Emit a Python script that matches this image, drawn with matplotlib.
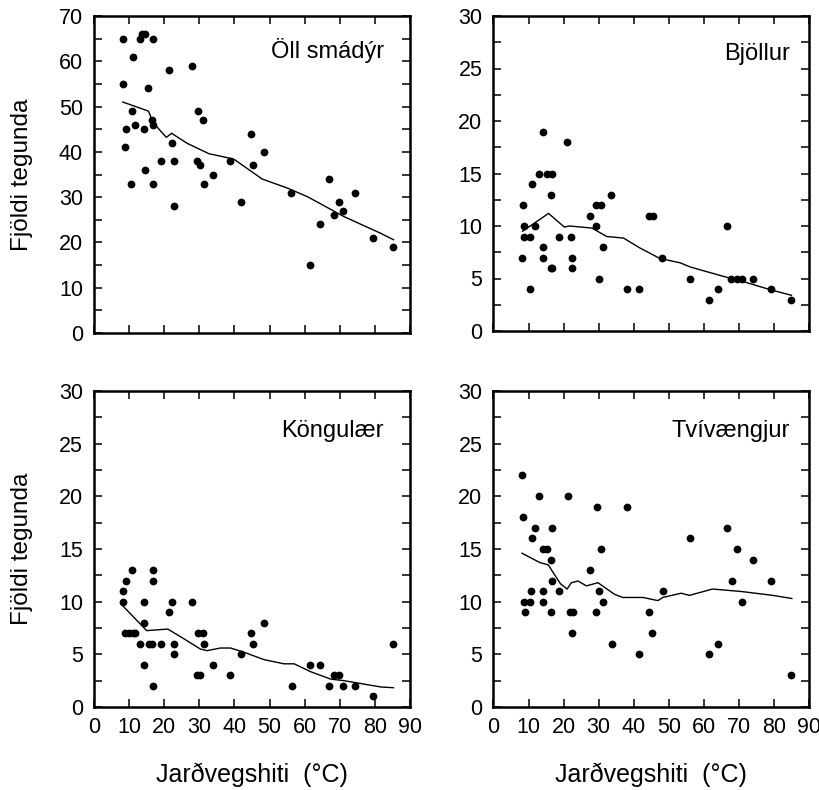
import matplotlib
matplotlib.use("Agg")
import matplotlib.pyplot as plt
from matplotlib.ticker import MultipleLocator

plt.rcParams['font.family'] = ['Liberation Sans', 'DejaVu Sans']

# ---- data ----
titles = ["Öll smádýr", "Bjöllur", "Köngulær", "Tvívængjur"]
xlabel = "Jarðvegshiti  (°C)"
ylabel = "Fjöldi tegunda"

x1 = [8.4, 11.1, 13.2, 13.8, 14.4, 16.8, 8.2, 21.3, 27.9, 15.5, 10.7, 29.6, 31.0, 11.8, 9.0,
      14.3, 16.6, 16.7, 8.9, 22.2, 22.7, 19.0, 14.4, 10.5, 16.8, 22.9, 29.2, 30.2, 31.3, 33.9,
      38.6, 44.6, 45.4, 48.5, 41.8, 56.2, 61.6, 64.3, 66.8, 68.3, 69.8, 71.0, 74.2, 79.4, 85.3]
y1 = [65, 61, 65, 66, 66, 65, 55, 58, 59, 54, 49, 49, 47, 46, 45, 45, 47, 46, 41, 42,
      38, 38, 36, 33, 33, 28, 38, 37, 33, 35, 38, 44, 37, 40, 29, 31, 15, 24, 34, 26,
      29, 27, 31, 21, 19]
lx1 = [8.2, 15.5, 16.9, 20.6, 22.1, 26.5, 32.7, 39.8, 44.6, 47.9, 55.1, 60.8, 71.2, 81.7, 85.3]
ly1 = [51.0, 49.0, 46.4, 43.2, 44.1, 41.9, 39.6, 38.4, 35.8, 34.0, 32.0, 30.1, 25.7, 22.0, 20.6]

x2 = [8.3, 8.6, 8.6, 10.5, 11.7, 8.1, 10.4, 11.0, 13.1, 14.1, 15.2, 16.8, 16.4, 14.1, 14.1,
      16.4, 16.8, 18.8, 21.1, 22.1, 22.5, 22.5, 27.6, 29.1, 29.3, 30.8, 31.2, 30.0, 33.6, 38.2,
      41.6, 44.5, 45.4, 48.2, 56.1, 61.4, 64.0, 66.5, 67.7, 69.4, 70.8, 73.9, 79.1, 85.0]
y2 = [12, 10, 9, 9, 10, 7, 4, 14, 15, 19, 15, 15, 13, 8, 7, 6, 6, 9, 18, 9,
      7, 6, 11, 10, 12, 12, 8, 5, 13, 4, 4, 11, 11, 7, 5, 3, 4, 10, 5, 5,
      5, 5, 4, 3]
lx2 = [8.3, 15.7, 20.2, 21.7, 28.1, 32.3, 37.1, 41.8, 47.5, 53.2, 56.1, 65.6, 71.3, 79.3, 85.0]
ly2 = [9.5, 11.2, 9.9, 10.0, 9.8, 9.0, 8.85, 7.9, 6.9, 6.5, 6.1, 5.2, 4.7, 3.9, 3.4]

x3 = [8.2, 8.4, 9.0, 10.7, 8.8, 10.1, 11.1, 11.8, 13.2, 14.3, 14.3, 14.3, 15.6, 16.6, 16.7,
      16.7, 16.8, 19.0, 21.3, 22.2, 22.8, 22.8, 27.9, 29.5, 31.1, 31.3, 29.2, 30.3, 33.9, 38.6,
      41.9, 44.6, 45.4, 48.5, 56.3, 61.6, 64.3, 66.8, 68.4, 69.8, 71.0, 74.2, 79.4, 85.2]
y3 = [11, 10, 12, 13, 7, 7, 7, 7, 6, 10, 8, 4, 6, 6, 13, 12, 2, 6, 9, 10,
      6, 5, 10, 7, 7, 6, 3, 3, 4, 3, 5, 7, 6, 8, 2, 4, 4, 2, 3, 3,
      2, 2, 1, 6]
lx3 = [8.2, 15.0, 21.0, 25.5, 30.3, 32.2, 36.0, 38.9, 42.7, 48.4, 54.1, 57.0, 61.7, 67.4, 71.2, 81.7, 85.3]
ly3 = [9.6, 7.25, 7.4, 6.5, 5.5, 5.35, 5.6, 5.6, 5.2, 4.5, 4.1, 4.1, 3.35, 2.65, 2.5, 1.9, 1.83]

x4 = [8.1, 8.3, 8.6, 8.9, 10.4, 10.6, 11.0, 11.7, 13.1, 14.0, 15.4, 14.1, 14.1, 16.7, 16.4,
      16.7, 16.5, 18.8, 21.2, 21.9, 22.6, 22.5, 27.6, 29.1, 29.5, 30.0, 30.8, 31.2, 33.7, 38.2,
      41.6, 44.4, 45.3, 48.3, 56.1, 61.5, 64.0, 66.5, 68.0, 69.5, 70.8, 73.9, 79.1, 85.0]
y4 = [22, 18, 10, 9, 10, 11, 16, 17, 20, 15, 15, 11, 10, 17, 14, 12, 9, 11, 20, 9,
      9, 7, 13, 9, 19, 11, 15, 10, 6, 19, 5, 9, 7, 11, 16, 5, 6, 17, 12, 15,
      10, 14, 12, 3]
lx4 = [8.1, 13.3, 15.6, 19.1, 21.0, 22.2, 24.1, 26.5, 29.8, 34.5, 36.9, 42.6, 46.9, 48.3,
       53.5, 55.9, 62.5, 71.1, 79.6, 85.1]
ly4 = [14.6, 13.7, 13.5, 11.7, 11.2, 11.8, 11.96, 11.5, 11.8, 10.7, 10.4, 10.4, 10.1, 10.4,
       10.8, 10.6, 11.2, 10.95, 10.6, 10.3]

xs = [x1, x2, x3, x4]
ys = [y1, y2, y3, y4]
lxs = [lx1, lx2, lx3, lx4]
lys = [ly1, ly2, ly3, ly4]
ymaxes = [70, 30, 30, 30]
ymajor = [10, 5, 5, 5]
yminor = [5, 2.5, 2.5, 2.5]

W, H = 820, 790
fig = plt.figure(figsize=(W / 100, H / 100), dpi=100)

# axes rectangles in pixels: left, top, right, bottom
rects = [(94, 16, 410, 333), (493.5, 16, 809, 331), (94, 391, 410, 707), (493.5, 391, 809, 707)]
title_x = [0.918, 0.94, 0.918, 0.94]
title_y = [0.868, 0.86, 0.855, 0.855]

for i in range(4):
    l, t, r, b = rects[i]
    ax = fig.add_axes([l / W, 1 - b / H, (r - l) / W, (b - t) / H])
    ax.plot(xs[i], ys[i], 'o', color='black', markersize=5.6, markeredgewidth=0)
    ax.plot(lxs[i], lys[i], '-', color='black', linewidth=1.0)
    ax.set_xlim(0, 90)
    ax.set_ylim(0, ymaxes[i])
    ax.xaxis.set_major_locator(MultipleLocator(10))
    ax.yaxis.set_major_locator(MultipleLocator(ymajor[i]))
    ax.yaxis.set_minor_locator(MultipleLocator(yminor[i]))
    ax.tick_params(which='both', direction='in', top=True, right=True,
                   length=6, width=1.1, labelsize=15.5)
    ax.tick_params(axis='x', pad=7.5)
    ax.tick_params(axis='y', pad=8)
    for s in ax.spines.values():
        s.set_linewidth(1.8)
    ax.text(title_x[i], title_y[i], titles[i], transform=ax.transAxes,
            ha='right', va='baseline', fontsize=17)
    if i < 2:
        ax.tick_params(labelbottom=False)
    else:
        ax.set_xlabel(xlabel, fontsize=18)
        ax.xaxis.set_label_coords(0.5, -0.215)
        ax.xaxis.label.set_va('center')
    if i % 2 == 0:
        ax.set_ylabel(ylabel, fontsize=17.5)
        ax.yaxis.set_label_coords(-0.228, 0.5)
        ax.yaxis.label.set_va('center')

fig.savefig("out.png", dpi=100)
